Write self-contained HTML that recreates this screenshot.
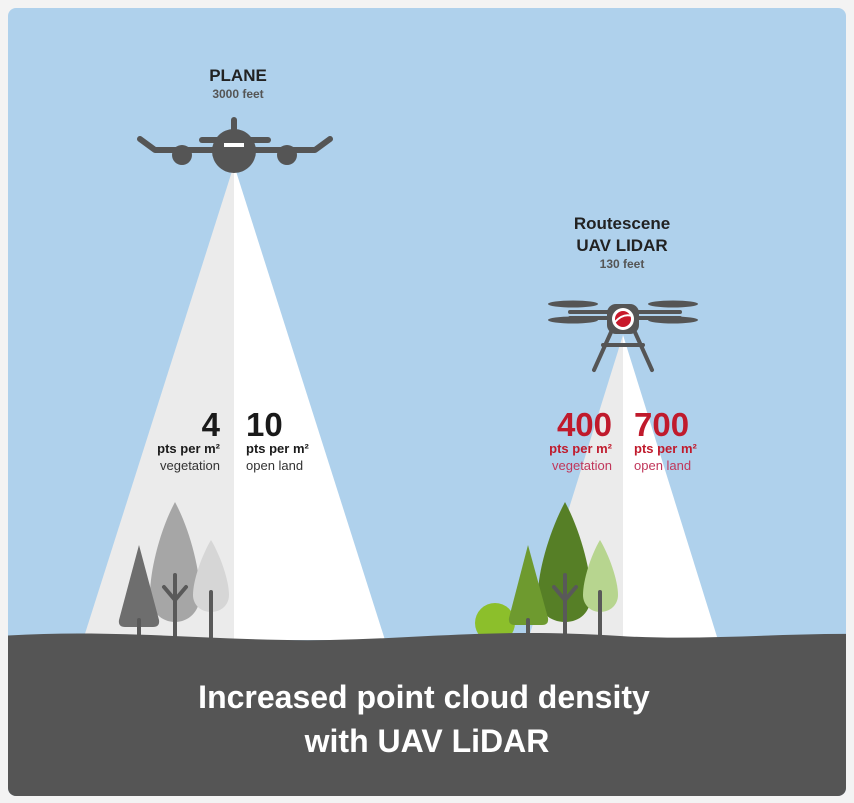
<!DOCTYPE html>
<html><head><meta charset="utf-8"><style>
html,body{margin:0;padding:0;background:#fff;}
svg{display:block;}
text{font-family:"Liberation Sans",sans-serif;}
</style></head><body>
<svg width="854" height="803" viewBox="0 0 854 803">
<defs><clipPath id="c"><rect x="8" y="8" width="838" height="788" rx="8"/></clipPath></defs>
<rect x="0" y="0" width="854" height="803" fill="#f3f3f3"/>
<g clip-path="url(#c)">
<rect x="8" y="8" width="838" height="788" fill="#afd1ec"/>
<polygon points="234,165 83,640 234,640" fill="#ebebeb"/>
<polygon points="234,165 385,640 234,640" fill="#ffffff"/>
<polygon points="623,335 528,640 623,640" fill="#ebebeb"/>
<polygon points="623,335 718,640 623,640" fill="#ffffff"/>
<path d="M175,502 C160,530 150,570 150,595 C150,612 162,622 175,622 C188,622 200,612 200,595 C200,570 190,530 175,502Z" fill="#a6a6a6"/>
<path d="M211,540 C202,555 193,580 193,595 C193,605 201,612 211,612 C221,612 229,605 229,595 C229,580 220,555 211,540Z" fill="#d6d6d6"/>
<path d="M139,545 L119,620 Q118,627 125,627 L153,627 Q160,627 159,620Z" fill="#6e6e6e"/>
<g stroke="#595959" stroke-width="4" stroke-linecap="round" fill="none">
<line x1="139" y1="620" x2="139" y2="640"/>
<line x1="175" y1="575" x2="175" y2="640"/>
<polyline points="164,587 175,600 186,587"/>
<line x1="211" y1="592" x2="211" y2="640"/>
</g>
<circle cx="495" cy="623" r="20" fill="#8cbf2b"/>
<path d="M565,502 C550,530 538,570 538,595 C538,612 550,622 565,622 C580,622 591,612 591,595 C591,570 580,530 565,502Z" fill="#567f26"/>
<path d="M600,540 C591,555 583,580 583,595 C583,605 591,612 600,612 C610,612 618,605 618,595 C618,580 609,555 600,540Z" fill="#b7d58f"/>
<path d="M528,545 L509,618 Q508,625 515,625 L542,625 Q549,625 548,618Z" fill="#6e9a2f"/>
<g stroke="#595959" stroke-width="4" stroke-linecap="round" fill="none">
<line x1="528" y1="620" x2="528" y2="640"/>
<line x1="565" y1="575" x2="565" y2="640"/>
<polyline points="554,587 565,600 576,587"/>
<line x1="600" y1="592" x2="600" y2="640"/>
</g>
<path d="M0,636 C120,628 220,642 330,640 C430,638 500,628 620,636 C700,641 780,633 860,634 L860,803 L0,803Z" fill="#555555"/>
</g>
<g fill="#555" stroke="#555">
<line x1="234" y1="120" x2="234" y2="140" stroke-width="6" stroke-linecap="round"/>
<line x1="202" y1="140" x2="268" y2="140" stroke-width="6" stroke-linecap="round"/>
<polyline points="140,139 155,150 315,150 330,139" fill="none" stroke-width="6" stroke-linecap="round" stroke-linejoin="round"/>
<circle cx="182" cy="155" r="10" stroke="none"/>
<circle cx="287" cy="155" r="10" stroke="none"/>
<circle cx="234" cy="151" r="22" stroke="none"/>
</g>
<rect x="224" y="143" width="20" height="4" fill="#fff"/>
<g fill="#555" stroke="#555" stroke-linecap="round">
<line x1="570" y1="312" x2="680" y2="312" stroke-width="4"/>
<line x1="570" y1="318" x2="680" y2="318" stroke-width="4"/>
<ellipse cx="573" cy="304" rx="25" ry="3.5" stroke="none"/>
<ellipse cx="573" cy="320" rx="25" ry="3.5" stroke="none"/>
<ellipse cx="673" cy="304" rx="25" ry="3.5" stroke="none"/>
<ellipse cx="673" cy="320" rx="25" ry="3.5" stroke="none"/>
<polyline points="612,330 594,370" fill="none" stroke-width="4"/>
<polyline points="634,330 652,370" fill="none" stroke-width="4"/>
<line x1="603" y1="345" x2="643" y2="345" stroke-width="4"/>
<rect x="607" y="304" width="32" height="30" rx="9" stroke="none"/>
</g>
<circle cx="623" cy="319" r="11" fill="#fff"/>
<circle cx="623" cy="319" r="8" fill="#c8192b"/>
<path d="M615,322 Q623,313 632,316" stroke="#fff" stroke-width="2" fill="none"/>
<g text-anchor="middle" font-weight="bold">
<text x="238" y="81" font-size="17" fill="#222">PLANE</text>
<text x="238" y="98" font-size="12" fill="#555">3000 feet</text>
<text x="622" y="229" font-size="17" fill="#222">Routescene</text>
<text x="622" y="251" font-size="17" fill="#222">UAV LIDAR</text>
<text x="622" y="268" font-size="12" fill="#555">130 feet</text>
</g>
<g font-size="13">
<text x="220" y="436" text-anchor="end" font-size="33" font-weight="bold" fill="#1a1a1a">4</text>
<text x="220" y="453" text-anchor="end" font-weight="bold" fill="#1a1a1a">pts per m²</text>
<text x="220" y="470" text-anchor="end" fill="#333">vegetation</text>
<text x="246" y="436" font-size="33" font-weight="bold" fill="#1a1a1a">10</text>
<text x="246" y="453" font-weight="bold" fill="#1a1a1a">pts per m²</text>
<text x="246" y="470" fill="#333">open land</text>
<text x="612" y="436" text-anchor="end" font-size="33" font-weight="bold" fill="#c01a2c">400</text>
<text x="612" y="453" text-anchor="end" font-weight="bold" fill="#c01a2c">pts per m²</text>
<text x="612" y="470" text-anchor="end" fill="#c0365a">vegetation</text>
<text x="634" y="436" font-size="33" font-weight="bold" fill="#c01a2c">700</text>
<text x="634" y="453" font-weight="bold" fill="#c01a2c">pts per m²</text>
<text x="634" y="470" fill="#c0365a">open land</text>
</g>
<g text-anchor="middle" font-size="32" font-weight="bold" fill="#fff">
<text x="424" y="708">Increased point cloud density</text>
<text x="427" y="752">with UAV LiDAR</text>
</g>
</svg>
</body></html>
